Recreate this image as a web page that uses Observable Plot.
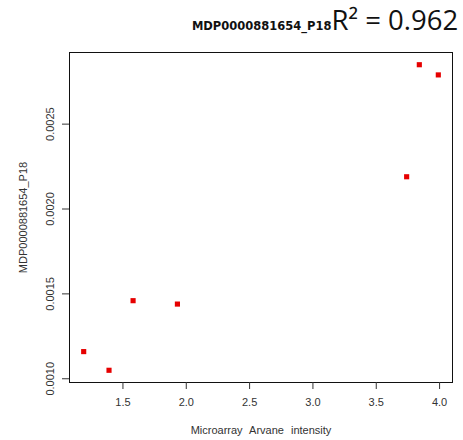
<!DOCTYPE html>
<html>
<head>
<meta charset="utf-8">
<script src="https://cdn.jsdelivr.net/npm/d3@7"></script>
<script src="https://cdn.jsdelivr.net/npm/@observablehq/plot@0.6"></script>
<style>
  html, body { margin: 0; padding: 0; background: #fff; }
</style>
</head>
<body>
<div id="chart"></div>
<script>
// Data
const intensity = [1.19, 1.39, 1.58, 1.93, 3.74, 3.84, 3.99];
const expression = [0.00116, 0.00105, 0.00146, 0.00144, 0.00219, 0.00285, 0.00279];
const xTicks = [1.5, 2.0, 2.5, 3.0, 3.5, 4.0];
const yTicks = [0.0010, 0.0015, 0.0020, 0.0025];
const titleName = "MDP0000881654_P18";
const titleR2 = "R² = 0.962";
const xLabel = "Microarray Arvane intensity";
const yLabel = "MDP0000881654_P18";

const data = intensity.map((x, i) => ({x, y: expression[i]}));

// R-style 4% range extension
function ext(v) {
  const [a, b] = d3.extent(v);
  const r = b - a;
  return [a - 0.04 * r, b + 0.04 * r];
}

const chart = Plot.plot({
  width: 463,
  height: 440,
  marginLeft: 69,
  marginRight: 11,
  marginTop: 52,
  marginBottom: 58,
  style: {fontFamily: "'Liberation Sans', Arial, sans-serif", fontSize: "11px", color: "#333", background: "#fff"},
  x: {domain: ext(intensity)},
  y: {domain: ext(expression)},
  marks: [
    Plot.frame({stroke: "#111"}),
    Plot.axisX({ticks: xTicks, tickFormat: d3.format(".1f"), tickSize: 7, tickPadding: 9,
      label: xLabel, labelAnchor: "center", labelArrow: "none", labelOffset: 51}),
    Plot.axisY({ticks: yTicks, tickFormat: d3.format(".4f"), tickSize: 7, tickPadding: 9, tickRotate: -90,
      label: yLabel, labelAnchor: "center", labelArrow: "none", labelOffset: 50}),
    Plot.dot(data, {x: "x", y: "y", symbol: "square", fill: "#e60000", r: 2.9}),
    Plot.text([titleName], {frameAnchor: "top-left", text: d => d, textAnchor: "end", lineAnchor: "bottom",
      dx: 262, dy: -23, fontFamily: "'DejaVu Sans', sans-serif", fontWeight: "bold", fontSize: 11.5, fill: "#111"}),
    Plot.text([titleR2], {frameAnchor: "top-left", text: d => d, textAnchor: "start", lineAnchor: "bottom",
      dx: 262, dy: -23, fontFamily: "'Open Sans', sans-serif", fontSize: 27.5, fill: "#111"})
  ]
});
document.getElementById("chart").appendChild(chart);
d3.select(chart).selectAll("[aria-label='x-axis label'] text").style("word-spacing", "4px");
</script>
</body>
</html>
